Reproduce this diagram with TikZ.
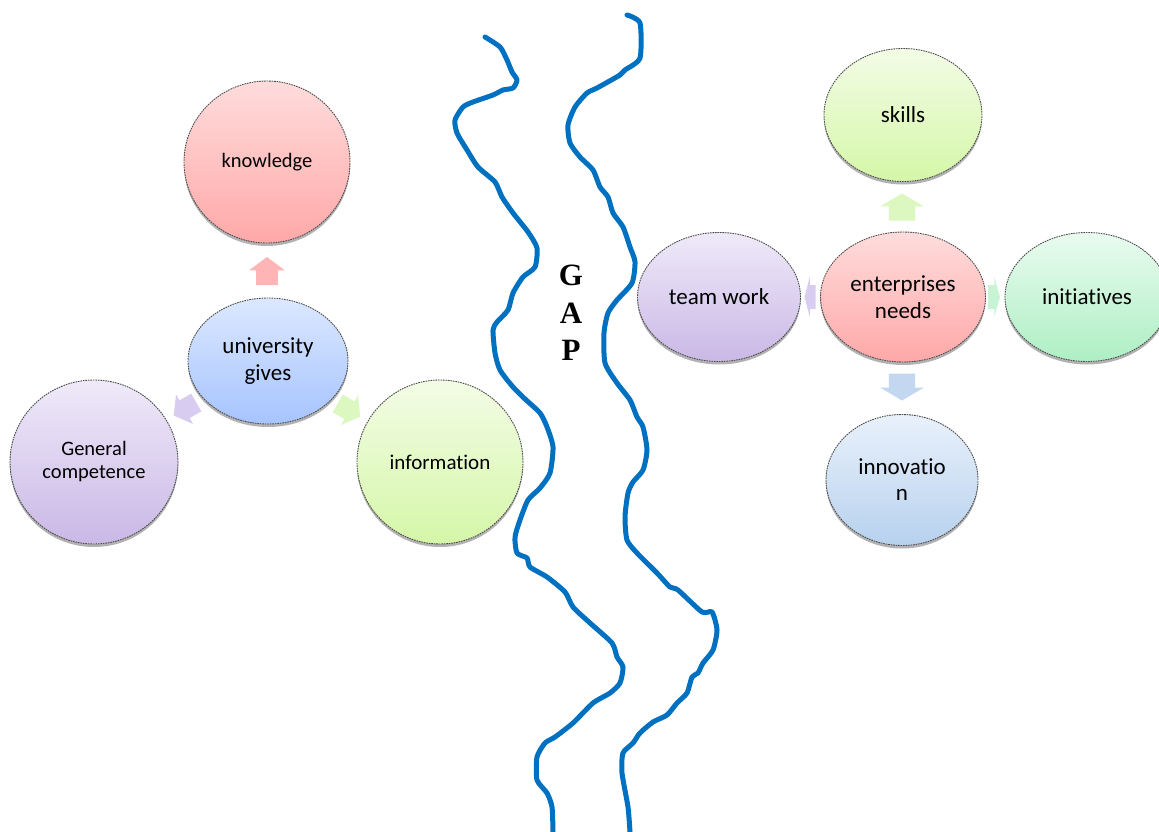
\documentclass[tikz,border=0pt]{standalone}
\usepackage{fontspec}
\setmainfont[Ligatures={NoCommon}]{Carlito}
\newfontfamily\gapfont{Liberation Serif}
\usetikzlibrary{shapes.geometric,shadows}
\definecolor{riverblue}{HTML}{0070C0}
\definecolor{knowTop}{HTML}{FFDCDC}
\definecolor{knowBot}{HTML}{FFA8A8}
\definecolor{univTop}{HTML}{DCE8FF}
\definecolor{univBot}{HTML}{A6C4FF}
\definecolor{lavTop}{HTML}{EFEAF9}
\definecolor{lavBot}{HTML}{CAB8E6}
\definecolor{lgTop}{HTML}{F3FCE6}
\definecolor{lgBot}{HTML}{D5F7A8}
\definecolor{mintTop}{HTML}{E9FBEF}
\definecolor{mintBot}{HTML}{AEEFC4}
\definecolor{lbTop}{HTML}{E9F1FB}
\definecolor{lbBot}{HTML}{B7D1EE}
\definecolor{arrPink}{HTML}{FFB5B5}
\definecolor{arrLav}{HTML}{D8CCF0}
\definecolor{arrGreen}{HTML}{DDF7C0}
\definecolor{arrMint}{HTML}{C8F4D6}
\definecolor{arrBlue}{HTML}{C3D8F0}
\newcommand{\blockarr}[5]{\fill[#1, shift={(#2)}, rotate=#3, xscale=#4, yscale=#5] (-0.5,-0.3) -- (0.02,-0.3) -- (0.02,-0.5) -- (0.5,0) -- (0.02,0.5) -- (0.02,0.3) -- (-0.5,0.3) -- cycle;}
\begin{document}
\begin{tikzpicture}[x=1pt,y=-1pt,
  bub/.style={ellipse, inner sep=0pt, align=center, draw=black!70, line width=0.9pt,
    dash pattern=on 1.6pt off 0.9pt,
    drop shadow={shadow xshift=0pt, shadow yshift=-3pt, opacity=0.3, fill=black}},
  river/.style={draw=riverblue, line width=5pt, line cap=round, line join=round}]
\useasboundingbox[fill=white] (0,0) rectangle (1159,832);

% rivers
\draw[river] plot[smooth, tension=0.4] coordinates {(485,37) (500,47) (507,60) (512,72) (517,80) (513,88) (503,90) (493,95) (473,102) (463,107) (455,120) (457,133) (467,150) (478,167) (495,182) (502,197) (513,213) (528,232) (537,248) (535,267) (523,277) (513,293) (508,310) (497,322) (493,330) (495,353) (500,370) (513,387) (525,399) (540,413) (547,427) (553,447) (550,473) (540,488) (528,500) (520,520) (515,537) (517,553) (527,558) (530,567) (547,577) (565,592) (573,607) (590,623) (612,643) (617,657) (623,667) (620,683) (610,693) (593,703) (573,723) (555,737) (545,743) (537,757) (537,780) (547,793) (552,807) (553,832)};
\draw[river] plot[smooth, tension=0.4] coordinates {(627,15) (640,23) (640,58) (625,70) (620,75) (597,88) (587,93) (575,107) (568,125) (570,143) (580,157) (593,170) (600,187) (608,197) (613,213) (623,227) (630,247) (635,262) (632,283) (617,300) (608,313) (604,333) (605,363) (617,383) (630,400) (637,417) (643,427) (647,450) (643,470) (633,482) (628,493) (625,517) (627,540) (637,553) (657,573) (670,587) (678,590) (702,612) (712,612) (717,630) (713,650) (703,663) (698,673) (692,677) (687,693) (677,703) (667,715) (653,722) (640,733) (633,743) (623,753) (622,773) (628,807) (630,832)};

\node[font=\gapfont\bfseries\fontsize{31}{37.5}\selectfont, align=center] (gap) at (571,313) {G\\A\\P};

% left cluster
\node[bub, top color=knowTop, bottom color=knowBot, minimum width=166pt, minimum height=162pt, font=\fontsize{20.5}{24}\selectfont] (know) at (267,162) {knowledge};
\node[bub, top color=univTop, bottom color=univBot, minimum width=160pt, minimum height=126pt, font=\fontsize{23}{27}\selectfont] (univ) at (268,361) {university\\gives};
\node[bub, top color=lavTop, bottom color=lavBot, minimum width=168pt, minimum height=164pt, font=\fontsize{20.5}{23}\selectfont] (gen) at (94,462) {General\\competence};
\node[bub, top color=lgTop, bottom color=lgBot, minimum width=166pt, minimum height=164pt, font=\fontsize{21}{25}\selectfont] (info) at (440,462) {information};

\blockarr{arrPink}{267,271}{90}{28}{36}
\blockarr{arrLav}{185,409}{210}{26}{34}
\blockarr{arrGreen}{349,410}{-30}{26}{34}

% right cluster
\node[bub, top color=lgTop, bottom color=lgBot, minimum width=158pt, minimum height=133pt, font=\fontsize{23}{27}\selectfont] (skills) at (903,115) {skills};
\node[bub, top color=lavTop, bottom color=lavBot, minimum width=163pt, minimum height=129pt, font=\fontsize{23}{27}\selectfont] (team) at (719,297) {team work};
\node[bub, top color=knowTop, bottom color=knowBot, minimum width=165pt, minimum height=130pt, font=\fontsize{23}{27}\selectfont] (ent) at (903,297) {enterprises\\needs};
\node[bub, top color=mintTop, bottom color=mintBot, minimum width=164pt, minimum height=129pt, font=\fontsize{23}{27}\selectfont] (init) at (1087,297) {initiatives};
\node[bub, top color=lbTop, bottom color=lbBot, minimum width=152pt, minimum height=131pt, font=\fontsize{23}{26}\selectfont] (innov) at (902,480) {innovatio\\n};

\blockarr{arrGreen}{902,207}{90}{27}{44}
\blockarr{arrLav}{810,297}{180}{11}{40}
\blockarr{arrMint}{994,297}{0}{12}{40}
\blockarr{arrBlue}{902,387}{-90}{27}{44}
\end{tikzpicture}
\end{document}
